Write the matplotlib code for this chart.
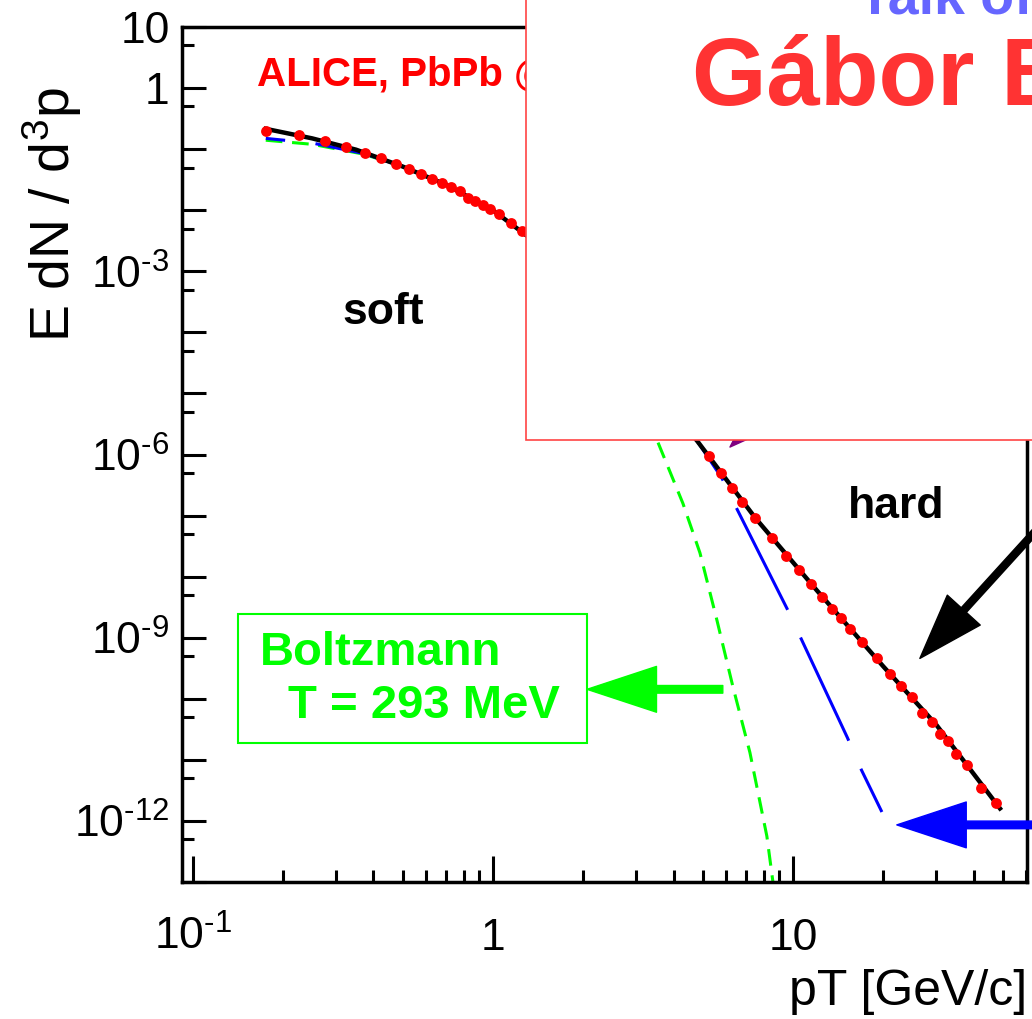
import numpy as np
import matplotlib
matplotlib.use("Agg")
import matplotlib.pyplot as plt
from matplotlib.patches import Rectangle
from matplotlib.ticker import FixedLocator, FixedFormatter, NullFormatter

plt.rcParams['font.family'] = ['Liberation Sans', 'DejaVu Sans']
plt.rcParams['mathtext.fontset'] = 'custom'
plt.rcParams['mathtext.rm'] = 'Liberation Sans'
plt.rcParams['mathtext.it'] = 'Liberation Sans:italic'
plt.rcParams['mathtext.bf'] = 'Liberation Sans:bold'
plt.rcParams['lines.scale_dashes'] = False

# ALICE PbPb charged hadron spectrum
pt_data = [0.175, 0.225, 0.275, 0.325, 0.375, 0.425, 0.475, 0.525, 0.575, 0.625,
           0.675, 0.725, 0.775, 0.825, 0.875, 0.925, 0.975, 1.05, 1.15, 1.25,
           5.25, 5.75, 6.25, 6.75, 7.5, 8.5, 9.5, 10.5, 11.5, 12.5, 13.5, 14.5,
           15.5, 17, 19, 21, 23, 25, 27, 29, 31, 33, 35, 38, 42.5, 47.5]
yield_data = [2.0e-1, 1.7e-1, 1.35e-1, 1.1e-1, 8.7e-2, 7.2e-2, 5.75e-2, 4.8e-2, 3.9e-2, 3.2e-2,
              2.8e-2, 2.4e-2, 2.1e-2, 1.6e-2, 1.4e-2, 1.23e-2, 1.05e-2, 8.7e-3, 6.2e-3, 4.6e-3,
              9.3e-7, 4.9e-7, 2.8e-7, 1.66e-7, 9.1e-8, 4.3e-8, 2.2e-8, 1.3e-8, 7.6e-9, 4.7e-9,
              3.0e-9, 2.1e-9, 1.4e-9, 8.5e-10, 4.7e-10, 2.5e-10, 1.6e-10, 1.07e-10, 5.9e-11,
              4.2e-11, 2.7e-11, 2.0e-11, 1.26e-11, 8.1e-12, 3.5e-12, 2.0e-12]

# full fit (black)
pt_fit = [0.175, 0.25, 0.35, 0.5, 0.7, 1.0, 1.3, 4.8, 7.5, 12, 20, 30, 49]
y_fit = [2.15e-1, 1.5e-1, 9.8e-2, 5.2e-2, 2.6e-2, 1.0e-2, 3.8e-3,
         1.66e-6, 9.1e-8, 6.0e-9, 3.4e-10, 3.8e-11, 1.6e-12]

# blue long dashed component
pt_blue = [0.175, 0.25, 0.37, 0.5, 0.7, 1.0, 1.3, 4.83, 5.8, 6.46, 9.7, 10.5, 15.2, 16.7, 19.8]
y_blue = [1.5e-1, 1.26e-1, 8.5e-2, 5.2e-2, 2.6e-2, 1.0e-2, 3.8e-3, 1.58e-6, 4.1e-7,
          1.38e-7, 2.6e-9, 1.12e-9, 2.3e-11, 7.8e-12, 1.4e-12]

# Boltzmann (green dashed)
pt_boltz = [0.175, 0.25, 0.37, 0.5, 0.7, 1.0, 1.3, 3.55, 4.30, 4.90, 5.58, 6.31, 7.19, 8.19, 8.58]
y_boltz = [1.4e-1, 1.2e-1, 8.3e-2, 5.2e-2, 2.6e-2, 1.0e-2, 3.8e-3, 1.58e-6, 1.58e-7,
           2.45e-8, 1.95e-9, 1.58e-10, 1.32e-11, 5.6e-13, 1.0e-13]

ytick_pos = [10.0 ** k for k in range(1, -14, -1)]
ytick_lab = {1: '10', 0: '1', -3: r'$\mathregular{10^{\text{-}3}}$',
             -6: r'$\mathregular{10^{\text{-}6}}$', -9: r'$\mathregular{10^{\text{-}9}}$',
             -12: r'$\mathregular{10^{\text{-}12}}$'}
xtick_pos = [0.1, 1, 10]
xtick_lab = [r'$\mathregular{10^{\text{-}1}}$', '1', '10']

fig = plt.figure(figsize=(10.32, 10.19), dpi=100)
ax = fig.add_axes([182 / 1032, 137 / 1019, 845 / 1032, 855 / 1019])
ax.set_xscale('log')
ax.set_yscale('log')
ax.set_xlim(0.092, 60.3)
ax.set_ylim(1e-13, 10)

ax.plot(pt_boltz, y_boltz, color='#00ff00', lw=2.2, linestyle=(0, (12, 7)), zorder=2)
ax.plot(pt_blue, y_blue, color='#0000ff', lw=2.2, linestyle=(68, (82, 22)), zorder=3)
ax.plot(pt_fit, y_fit, color='black', lw=3.2, zorder=4)
ax.plot(pt_data, yield_data, 'o', color='#ff0000', ms=7.8, mec='none', zorder=5)

for s in ax.spines.values():
    s.set_linewidth(2.5)

ax.yaxis.set_major_locator(FixedLocator(ytick_pos))
ax.yaxis.set_major_formatter(FixedFormatter(
    [ytick_lab.get(k, '') for k in range(1, -14, -1)]))
ax.yaxis.set_minor_locator(FixedLocator([5 * 10.0 ** k for k in range(0, -14, -1)]))
ax.yaxis.set_minor_formatter(NullFormatter())
ax.xaxis.set_major_locator(FixedLocator(xtick_pos))
ax.xaxis.set_major_formatter(FixedFormatter(xtick_lab))
ax.xaxis.set_minor_locator(FixedLocator([m * 10.0 ** k for k in (-1, 0, 1) for m in range(2, 10)]))
ax.xaxis.set_minor_formatter(NullFormatter())

ax.tick_params(axis='y', which='major', direction='in', length=17, width=2.2, pad=9, labelsize=32)
ax.tick_params(axis='y', which='minor', direction='in', length=8.5, width=2.2)
ax.tick_params(axis='x', which='major', direction='in', length=19, width=2.2, pad=49, labelsize=32)
ax.tick_params(axis='x', which='minor', direction='in', length=8.6, width=2.2)
for lab in ax.get_xticklabels():
    lab.set_va('baseline')
for lab in ax.get_yticklabels():
    lab.set_va('center_baseline')

ax.set_ylabel(r'E dN / d$^{3}$p', fontsize=40)
ax.yaxis.set_label_coords(-0.116, 0.780)
ax.set_xlabel('pT [GeV/c]', fontsize=36, loc='right')
ax.xaxis.set_label_coords(1.0, -0.102)

ax.text(0.163, 1.69, 'ALICE, PbPb @ 2.76 TeV', color='#ff0000', fontsize=29,
        weight='bold', va='center', ha='left')
ax.text(0.43, 2.1e-4, 'soft', fontsize=32, weight='bold', ha='center', va='center')
ax.text(22.0, 1.39e-7, 'hard', fontsize=32, weight='bold', ha='center', va='center')

ax.add_patch(Rectangle((0.1413, 10 ** -10.727), 2.058 - 0.1413,
                       10 ** -8.604 - 10 ** -10.727, fill=False,
                       edgecolor='#00ff00', lw=1.5, zorder=6))
ax.text(0.1673, 10 ** -9.257, 'Boltzmann', color='#00ff00', fontsize=34,
        weight='bold', va='center', ha='left')
ax.text(0.2073, 10 ** -10.122, 'T = 293 MeV', color='#00ff00', fontsize=34,
        weight='bold', va='center', ha='left')

# arrows
ax.annotate('', xy=(2.06, 10 ** -9.845), xytext=(5.84, 10 ** -9.845),
            arrowprops=dict(color='#00ff00', width=5.5, headwidth=33, headlength=50, shrink=0),
            annotation_clip=False)
ax.annotate('', xy=(22.2, 10 ** -12.065), xytext=(69.2, 10 ** -12.065),
            arrowprops=dict(color='#0000ff', width=5.5, headwidth=33, headlength=50, shrink=0),
            annotation_clip=False)
ax.annotate('', xy=(26.5, 10 ** -9.339), xytext=(69.2, 10 ** -7.086),
            arrowprops=dict(color='black', width=5, headwidth=32, headlength=47, shrink=0),
            annotation_clip=False)
ax.annotate('', xy=(6.17, 10 ** -5.878), xytext=(9.77, 10 ** -4.945),
            arrowprops=dict(color='#800080', width=4, headwidth=28, headlength=40, shrink=0),
            annotation_clip=False)

# slide overlay box covering the upper right
fig.add_artist(Rectangle((526 / 1032, 579 / 1019), 0.6, 0.5, transform=fig.transFigure,
                         facecolor='white', edgecolor='#ff4444', lw=1.2, zorder=5))
fig.text(692 / 1032, (1019 - 105) / 1019, 'Gábor Bíró', color='#ff3333', fontsize=69,
         weight='bold', va='baseline', ha='left', zorder=6)
fig.text(858 / 1032, (1019 - 13) / 1019, 'Talk of', color='#6666ff', fontsize=40,
         weight='bold', va='baseline', ha='left', zorder=6)

fig.savefig('out.png', dpi=100)
